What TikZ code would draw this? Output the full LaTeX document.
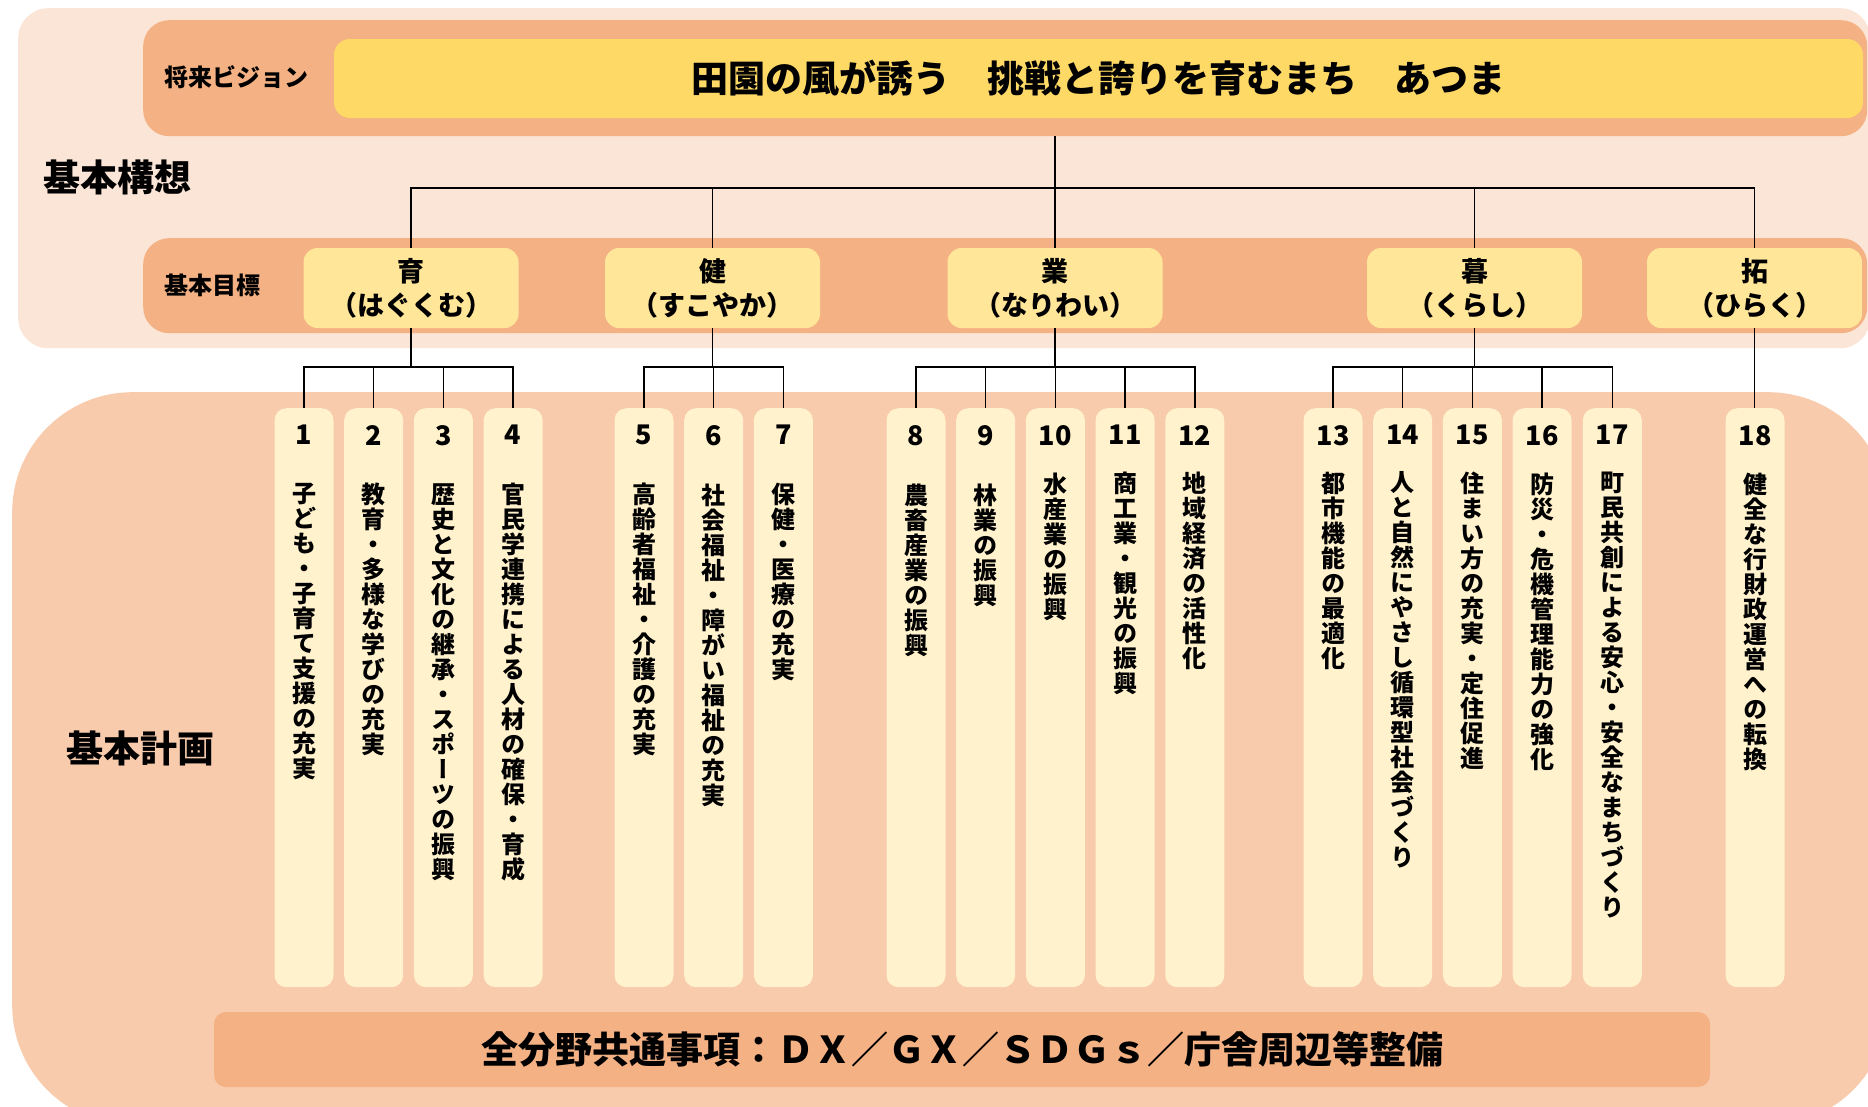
\documentclass[tikz,border=0pt]{standalone}
\usepackage{fontspec}
\setmainfont{Noto Sans CJK JP}
\newfontfamily\tatefont{Noto Sans CJK JP}[RawFeature=+vert]
\usetikzlibrary{
  positioning,
  calc
}
\definecolor{conceptbg}{RGB}{251,229,214}
\definecolor{planbg}{RGB}{248,203,173}
\definecolor{bandbg}{RGB}{244,177,131}
\definecolor{visionfill}{RGB}{255,217,102}
\definecolor{goalfill}{RGB}{255,230,153}
\definecolor{planfill}{RGB}{255,242,204}

% vertical (tategaki) text: one character per line
\makeatletter
\def\tate@stop{\tate@stop}
\def\tate@step#1{\ifx#1\tate@stop\else\hbox to 1em{\hss#1\hss}\expandafter\tate@step\fi}
\newcommand\tate[1]{\vbox{\tatefont\fontsize{24}{25}\selectfont
  \lineskiplimit=-\maxdimen\tate@step#1\tate@stop}}
\makeatother

% number + vertical title inside one plan column
\newcommand\plan[3][38pt]{\vbox to 579pt{\offinterlineskip
  \vskip 17pt
  \hbox to 59pt{\hss\fontsize{27}{27}\selectfont #2\hss}
  \vskip #1
  \hbox to 59pt{\hss\tate{#3}\hss}
  \vss}}

\begin{document}
\begin{tikzpicture}[
  x=1pt, y=-1pt,
  font=\bfseries,
  panel/.style={
    rectangle,
    draw=none,
    inner sep=0pt,
    anchor=north west
  },
  band/.style={
    panel,
    fill=bandbg,
    rounded corners=26pt,
    minimum width=1724pt
  },
  goalbox/.style={
    rectangle,
    fill=goalfill,
    rounded corners=14pt,
    minimum width=215pt,
    minimum height=80pt,
    inner sep=0pt,
    align=center,
    font=\bfseries\fontsize{27}{34}\selectfont
  },
  planbox/.style={
    rectangle,
    fill=planfill,
    rounded corners=12pt,
    inner sep=0pt,
    anchor=north
  },
  sidelabel/.style={
    font=\bfseries\fontsize{24}{24}\selectfont,
    anchor=west,
    inner sep=0pt
  },
  biglabel/.style={
    font=\bfseries\fontsize{37}{37}\selectfont,
    inner sep=0pt
  },
  tree/.style={
    draw=black,
    line width=1.5pt
  }
]
\path[use as bounding box, clip] (0,0) rectangle (1868,1106);

% ------------------------------------------------------------------
% Background panels
% ------------------------------------------------------------------
\node[panel, fill=conceptbg, rounded corners=30pt,
      minimum width=1852pt, minimum height=340pt] (concept) at (18,8) {};
\node[panel, fill=planbg, rounded corners=120pt,
      minimum width=1876pt, minimum height=733pt] (planarea) at (12,392) {};

\node[band, minimum height=116pt] (visionband) at (143,20) {};
\node[band, minimum height=95pt] (goalband) at (143,238) {};

% ------------------------------------------------------------------
% Vision
% ------------------------------------------------------------------
\node[sidelabel] (visionlabel) at (164,77) {将来ビジョン};
\node[rectangle, fill=visionfill, rounded corners=16pt,
      minimum width=1529pt, minimum height=79pt, inner sep=0pt,
      font=\bfseries\fontsize{37}{37}\selectfont] (vision) at (1098.5,78.5)
  {田園の風が誘う　挑戦と誇りを育むまち　あつま};

\node[biglabel] (conceptlabel) at (117,177) {基本構想};

% ------------------------------------------------------------------
% Basic goals
% ------------------------------------------------------------------
\node[sidelabel] (goallabel) at (164,285) {基本目標};
\node[goalbox] (g1) at (411,288) {育\\（はぐくむ）};
\node[goalbox] (g2) at (712.5,288) {健\\（すこやか）};
\node[goalbox] (g3) at (1055,288) {業\\（なりわい）};
\node[goalbox] (g4) at (1474.5,288) {暮\\（くらし）};
\node[goalbox] (g5) at (1754.5,288) {拓\\（ひらく）};

% ------------------------------------------------------------------
% Basic plan
% ------------------------------------------------------------------
\node[biglabel] (planlabel) at (140,748) {基本計画};

\node[planbox] (p1) at (304,408) {\plan{1}{子ども・子育て支援の充実}};
\node[planbox, right=10.3pt of p1] (p2) {\plan{2}{教育・多様な学びの充実}};
\node[planbox, right=10.3pt of p2] (p3) {\plan{3}{歴史と文化の継承・スポーツの振興}};
\node[planbox, right=10.3pt of p3] (p4) {\plan{4}{官民学連携による人材の確保・育成}};

\node[planbox] (p5) at (644,408) {\plan{5}{高齢者福祉・介護の充実}};
\node[planbox, right=10.3pt of p5] (p6) {\plan{6}{社会福祉・障がい福祉の充実}};
\node[planbox, right=10.3pt of p6] (p7) {\plan{7}{保健・医療の充実}};

\node[planbox] (p8) at (916,408) {\plan{8}{農畜産業の振興}};
\node[planbox, right=10.3pt of p8] (p9) {\plan{9}{林業の振興}};
\node[planbox, right=10.3pt of p9] (p10) {\plan[27pt]{10}{水産業の振興}};
\node[planbox, right=10.3pt of p10] (p11) {\plan[27pt]{11}{商工業・観光の振興}};
\node[planbox, right=10.3pt of p11] (p12) {\plan[27pt]{12}{地域経済の活性化}};

\node[planbox] (p13) at (1333,408) {\plan[27pt]{13}{都市機能の最適化}};
\node[planbox, right=10.3pt of p13] (p14) {\plan[27pt]{14}{人と自然にやさし循環型社会づくり}};
\node[planbox, right=10.3pt of p14] (p15) {\plan[27pt]{15}{住まい方の充実・定住促進}};
\node[planbox, right=10.3pt of p15] (p16) {\plan[27pt]{16}{防災・危機管理能力の強化}};
\node[planbox, right=10.8pt of p16] (p17) {\plan[27pt]{17}{町民共創による安心・安全なまちづくり}};

\node[planbox] (p18) at (1755,408) {\plan[27pt]{18}{健全な行財政運営への転換}};

\node[rectangle, fill=bandbg, rounded corners=12pt,
      minimum width=1496pt, minimum height=75pt, inner sep=0pt,
      font=\bfseries\fontsize{37}{37}\selectfont] (common) at (962,1049.5)
  {全分野共通事項：ＤＸ／ＧＸ／ＳＤＧｓ／庁舎周辺等整備};

% ------------------------------------------------------------------
% Tree connectors
% ------------------------------------------------------------------
\coordinate (upperbar) at (0,188);
\coordinate (lowerbar) at (0,367);

\draw[tree] (visionband.south -| g3.north) -- (g3.north);
\draw[tree] (g1.north) |- (upperbar -| g5.north) -- (g5.north)
  (g2.north) -- (g2.north |- upperbar)
  (g4.north) -- (g4.north |- upperbar);

\draw[tree] (g1.south) -- (g1.south |- lowerbar)
  (p1.north) |- (lowerbar -| p4.north) -- (p4.north)
  (p2.north) -- (p2.north |- lowerbar)
  (p3.north) -- (p3.north |- lowerbar);
\draw[tree] (g2.south) -- (g2.south |- lowerbar)
  (p5.north) |- (lowerbar -| p7.north) -- (p7.north)
  (p6.north) -- (p6.north |- lowerbar);
\draw[tree] (g3.south) -- (g3.south |- lowerbar)
  (p8.north) |- (lowerbar -| p12.north) -- (p12.north)
  (p9.north) -- (p9.north |- lowerbar)
  (p10.north) -- (p10.north |- lowerbar)
  (p11.north) -- (p11.north |- lowerbar);
\draw[tree] (g4.south) -- (g4.south |- lowerbar)
  (p13.north) |- (lowerbar -| p17.north) -- (p17.north)
  (p14.north) -- (p14.north |- lowerbar)
  (p15.north) -- (p15.north |- lowerbar)
  (p16.north) -- (p16.north |- lowerbar);
\draw[tree] (g5.south) -- (g5.south |- p18.north);

\end{tikzpicture}
\end{document}
